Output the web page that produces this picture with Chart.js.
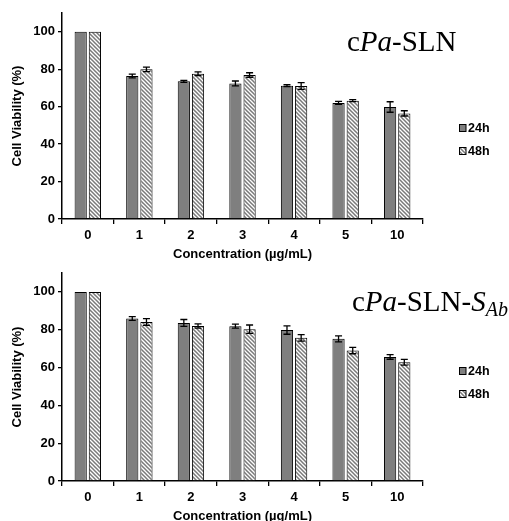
<!DOCTYPE html>
<html>
<head>
<meta charset="utf-8">
<script src="https://cdn.jsdelivr.net/npm/chart.js@4.4.1/dist/chart.umd.min.js"></script>
<style>
  html, body { margin: 0; padding: 0; background: #fff; width: 509px; height: 521px; overflow: hidden; }
  canvas { position: absolute; left: 0; }
  #c1 { top: 0; z-index: 1; }
  #c2 { top: 260px; z-index: 2; }
</style>
</head>
<body>
<canvas id="c1" width="509" height="266"></canvas>
<canvas id="c2" width="509" height="261"></canvas>
<script>
// ---- data ----
const categories = ['0', '1', '2', '3', '4', '5', '10'];
const seriesNames = ['24h', '48h'];
const yTicks = [0, 20, 40, 60, 80, 100];

// cPa-SLN
const sln24 = [100, 76.4, 73.5, 72.4, 71.2, 62.0, 59.8];
const sln24Err = [0, 1.0, 0.5, 1.3, 0.5, 0.8, 2.8];
const sln48 = [100, 79.9, 77.6, 76.9, 71.0, 63.2, 56.4];
const sln48Err = [0, 1.2, 1.0, 1.2, 1.8, 0.5, 1.4];

// cPa-SLN-SAb
const sab24 = [100, 85.9, 83.6, 81.9, 79.8, 75.2, 65.6];
const sab24Err = [0, 1.0, 1.8, 1.1, 2.2, 1.6, 1.2];
const sab48 = [100, 84.1, 82.0, 80.3, 75.7, 69.0, 62.8];
const sab48Err = [0, 1.8, 1.1, 2.2, 1.7, 1.7, 1.5];

// ---- styles ----
const SANS = '"Liberation Sans", Arial, sans-serif';
const SERIF = '"Liberation Serif", "Times New Roman", serif';
const GRAY = '#7f7f7f';

function makeHatch() {
  const p = document.createElement('canvas');
  p.width = 4; p.height = 4;
  const g = p.getContext('2d');
  g.fillStyle = '#ffffff';
  g.fillRect(0, 0, 4, 4);
  g.strokeStyle = '#7a7a7a';
  g.lineWidth = 1.5;
  g.beginPath();
  g.moveTo(-1, -1); g.lineTo(5, 5);
  g.moveTo(-1, 3); g.lineTo(1, 5);
  g.moveTo(3, -1); g.lineTo(5, 1);
  g.stroke();
  return g.createPattern(p, 'repeat');
}

const errorBarPlugin = {
  id: 'errorBars',
  afterDatasetsDraw(chart) {
    const ctx = chart.ctx;
    const yScale = chart.scales.y;
    ctx.save();
    ctx.strokeStyle = '#000';
    ctx.lineWidth = 1.3;
    chart.data.datasets.forEach((ds, di) => {
      const meta = chart.getDatasetMeta(di);
      meta.data.forEach((bar, i) => {
        const e = ds.errors[i];
        if (!e) return;
        const v = ds.data[i];
        const x = bar.x;
        const yT = yScale.getPixelForValue(v + e);
        const yB = yScale.getPixelForValue(v - e);
        ctx.beginPath();
        ctx.moveTo(x, yT); ctx.lineTo(x, yB);
        ctx.moveTo(x - 3.5, yT); ctx.lineTo(x + 3.5, yT);
        ctx.moveTo(x - 3.5, yB); ctx.lineTo(x + 3.5, yB);
        ctx.stroke();
      });
    });
    ctx.restore();
  }
};

const decoPlugin = {
  id: 'deco',
  afterDraw(chart, args, opts) {
    const ctx = chart.ctx;
    ctx.save();
    // title (mixed styles)
    let x = opts.titleX;
    const y = opts.titleY;
    ctx.fillStyle = '#000';
    ctx.textBaseline = 'alphabetic';
    ctx.textAlign = 'left';
    opts.title.forEach(part => {
      ctx.font = (part.italic ? 'italic ' : '') + part.size + 'px ' + SERIF;
      ctx.fillText(part.text, x, y + (part.dy || 0));
      x += ctx.measureText(part.text).width;
    });
    // legend
    chart.data.datasets.forEach((ds, i) => {
      const ly = opts.legendY[i];
      ctx.fillStyle = ds.backgroundColor;
      ctx.fillRect(459, ly - 3.5, 7, 7);
      ctx.strokeStyle = '#000';
      ctx.lineWidth = 1;
      ctx.strokeRect(459.5, ly - 3.5, 6.5, 7);
      ctx.fillStyle = '#000';
      ctx.font = 'bold 12.5px ' + SANS;
      ctx.textBaseline = 'middle';
      ctx.fillText(ds.label, 468, ly + 0.5);
    });
    ctx.restore();
  }
};

function makeChart(id, d24, e24, d48, e48, title, titleX, titleY, legendY, canvasH, axisY, xTitlePad) {
  const canvas = document.getElementById(id);
  const hatch = makeHatch();
  return new Chart(canvas, {
    type: 'bar',
    data: {
      labels: categories,
      datasets: [
        { label: seriesNames[0], data: d24, errors: e24, backgroundColor: GRAY,
          borderColor: '#000', borderWidth: 1, borderSkipped: 'bottom',
          categoryPercentage: 0.55, barPercentage: 0.86 },
        { label: seriesNames[1], data: d48, errors: e48, backgroundColor: hatch,
          borderColor: '#000', borderWidth: 1, borderSkipped: 'bottom',
          categoryPercentage: 0.55, barPercentage: 0.86 }
      ]
    },
    options: {
      responsive: false,
      devicePixelRatio: 1,
      animation: false,
      events: [],
      layout: { padding: { left: 0, right: 86, top: 13, bottom: 0 } },
      plugins: {
        legend: { display: false },
        tooltip: { enabled: false },
        deco: { title, titleX, titleY, legendY }
      },
      scales: {
        x: {
          type: 'category',
          grid: { display: true, drawOnChartArea: false, drawTicks: true, tickLength: 5,
                  color: '#000', lineWidth: 1.3, offset: true },
          border: { display: true, color: '#000', width: 1.5 },
          ticks: { color: '#000', font: { family: SANS, size: 13, weight: 'bold' },
                   padding: 4, maxRotation: 0, autoSkip: false },
          title: { display: true, text: 'Concentration (µg/mL)', color: '#000',
                   font: { family: SANS, size: 13, weight: 'bold' }, padding: { top: 0, bottom: xTitlePad } },
          afterFit(s) { s.height = canvasH - axisY; }
        },
        y: {
          min: 0, max: 110,
          afterBuildTicks(axis) { axis.ticks = yTicks.map(v => ({ value: v })); },
          grid: { display: true, drawOnChartArea: false, drawTicks: true, tickLength: 4,
                  color: '#000', lineWidth: 1.3 },
          border: { display: true, color: '#000', width: 1.5 },
          ticks: { color: '#000', font: { family: SANS, size: 13, weight: 'bold' }, padding: 3 },
          title: { display: true, text: 'Cell Viability (%)', color: '#000',
                   font: { family: SANS, size: 13, weight: 'bold' }, padding: { top: 10, bottom: 0 } },
          afterFit(s) { s.width = 62; }
        }
      }
    },
    plugins: [errorBarPlugin, decoPlugin]
  });
}

makeChart('c1', sln24, sln24Err, sln48, sln48Err,
  [ { text: 'c', size: 29 }, { text: 'Pa', size: 29, italic: true }, { text: '-SLN', size: 29 } ],
  347, 51, [128, 151], 266, 219, 4);

makeChart('c2', sab24, sab24Err, sab48, sab48Err,
  [ { text: 'c', size: 29 }, { text: 'Pa', size: 29, italic: true }, { text: '-SLN-', size: 29 },
    { text: 'S', size: 29, italic: true }, { text: 'Ab', size: 20, italic: true, dy: 5 } ],
  352, 51, [111, 134], 261, 221, -3);
</script>
</body>
</html>
